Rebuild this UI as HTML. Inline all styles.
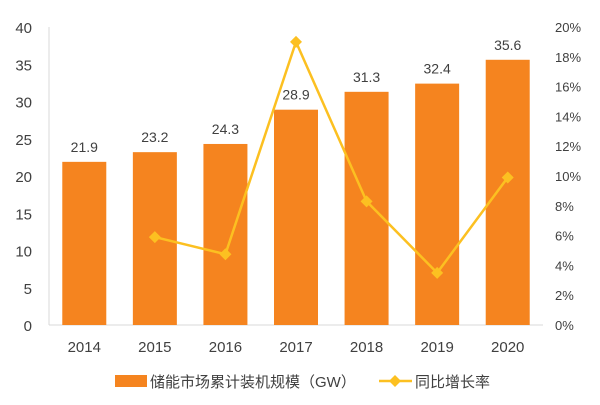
<!DOCTYPE html>
<html><head><meta charset="utf-8"><style>
body{margin:0;background:#fff;}
svg text{font-family:"Liberation Sans","Noto Sans CJK SC",sans-serif;}
</style></head><body>
<svg width="600" height="400" viewBox="0 0 600 400">
<g id="g"></g>
</svg>
<script>
const categories=["2014","2015","2016","2017","2018","2019","2020"];
const capacity=[21.9,23.2,24.3,28.9,31.3,32.4,35.6];
const growth=[null,5.9,4.75,19.0,8.3,3.5,9.9];
const leftTicks=[0,5,10,15,20,25,30,35,40];
const rightTicks=[0,2,4,6,8,10,12,14,16,18,20];
const NS="http://www.w3.org/2000/svg";
const g=document.getElementById('g');
const x0=49,x1=543,yb=325,yt=27;
const step=(x1-x0)/categories.length;
const xc=i=>x0+step*(i+0.5);
const yL=v=>yb-(v/40)*(yb-yt);
const yR=v=>yb-(v/20)*(yb-yt);
function el(t,a,txt){const e=document.createElementNS(NS,t);for(const k in a)e.setAttribute(k,a[k]);if(txt!=null)e.textContent=txt;g.appendChild(e);return e;}
let e;
e=el('line',{x1:x0,y1:yt,x2:x0,y2:yb,stroke:'#d9d9d9'});


e=el('line',{x1:x0,y1:yb,x2:x1,y2:yb,stroke:'#d9d9d9'});


leftTicks.forEach(v=>{e=el('text',{x:32,y:yL(v)+6,'text-anchor':'end','font-size':'15',fill:'#404040'},String(v));

});
rightTicks.forEach(v=>{e=el('text',{x:555,y:yR(v)+5,'font-size':'13',fill:'#404040'},v+'%');

});
categories.forEach((c,i)=>{
e=el('rect',{x:xc(i)-22,y:yL(capacity[i]),width:44,height:yb-yL(capacity[i]),fill:'#f5841f'});


e=el('text',{x:xc(i),y:yL(capacity[i])-10,'text-anchor':'middle','font-size':'14',fill:'#404040'},capacity[i].toFixed(1));


e=el('text',{x:xc(i),y:352,'text-anchor':'middle','font-size':'15',fill:'#404040'},c);


});
let pts=[];growth.forEach((v,i)=>{if(v!=null)pts.push(xc(i)+','+yR(v));});
e=el('polyline',{points:pts.join(' '),fill:'none',stroke:'#fcc021','stroke-width':'2.5'});


growth.forEach((v,i)=>{if(v==null)return;const x=xc(i),y=yR(v);
e=el('polygon',{points:`${x},${y-6} ${x+6},${y} ${x},${y+6} ${x-6},${y}`,fill:'#fcc021'});

});
e=el('rect',{x:115,y:375,width:32,height:12,fill:'#f5841f'});


e=el('text',{x:150,y:387,'font-size':'15',fill:'#404040'},'储能市场累计装机规模（GW）');


e=el('line',{x1:379,y1:381,x2:412,y2:381,stroke:'#fcc021','stroke-width':'2.5'});


e=el('polygon',{points:'395,375 401,381 395,387 389,381',fill:'#fcc021'});


e=el('text',{x:415,y:387,'font-size':'15',fill:'#404040'},'同比增长率');


</script>
</body></html>
